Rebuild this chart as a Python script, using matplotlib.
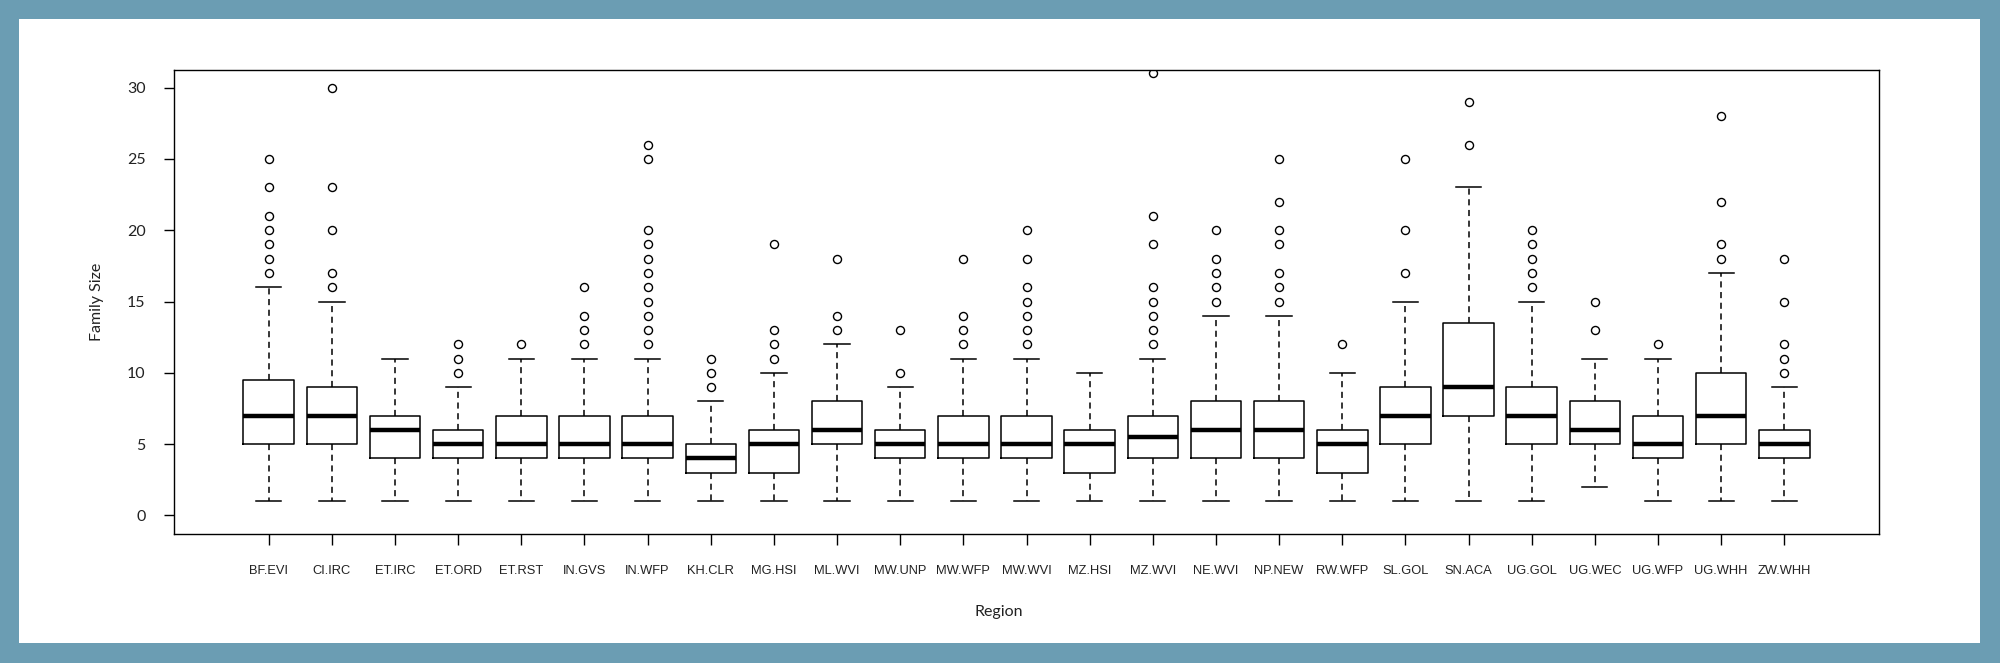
import numpy as np
import matplotlib
matplotlib.use('Agg')
import matplotlib.pyplot as plt
from matplotlib.patches import Rectangle

# region codes
regions = ['BF.EVI', 'CI.IRC', 'ET.IRC', 'ET.ORD', 'ET.RST', 'IN.GVS', 'IN.WFP', 'KH.CLR',
           'MG.HSI', 'ML.WVI', 'MW.UNP', 'MW.WFP', 'MW.WVI', 'MZ.HSI', 'MZ.WVI', 'NE.WVI',
           'NP.NEW', 'RW.WFP', 'SL.GOL', 'SN.ACA', 'UG.GOL', 'UG.WEC', 'UG.WFP', 'UG.WHH', 'ZW.WHH']

whisker_lo = [1, 1, 1, 1, 1, 1, 1, 1, 1, 1, 1, 1, 1, 1, 1, 1, 1, 1, 1, 1, 1, 2, 1, 1, 1]
q1 = [5, 5, 4, 4, 4, 4, 4, 3, 3, 5, 4, 4, 4, 3, 4, 4, 4, 3, 5, 7, 5, 5, 4, 5, 4]
median = [7, 7, 6, 5, 5, 5, 5, 4, 5, 6, 5, 5, 5, 5, 5.5, 6, 6, 5, 7, 9, 7, 6, 5, 7, 5]
q3 = [9.5, 9, 7, 6, 7, 7, 7, 5, 6, 8, 6, 7, 7, 6, 7, 8, 8, 6, 9, 13.5, 9, 8, 7, 10, 6]
whisker_hi = [16, 15, 11, 9, 11, 11, 11, 8, 10, 12, 9, 11, 11, 10, 11, 14, 14, 10, 15, 23, 15, 11, 11, 17, 9]
outliers = [
    [17, 18, 19, 20, 21, 23, 25],
    [16, 17, 20, 23, 30],
    [],
    [10, 11, 12],
    [12],
    [12, 13, 14, 16],
    [12, 13, 14, 15, 16, 17, 18, 19, 20, 25, 26],
    [9, 10, 11],
    [11, 12, 13, 19],
    [13, 14, 18],
    [10, 13],
    [12, 13, 14, 18],
    [12, 13, 14, 15, 16, 18, 20],
    [],
    [12, 13, 14, 15, 16, 19, 21, 31],
    [15, 16, 17, 18, 20],
    [15, 16, 17, 19, 20, 22, 25],
    [12],
    [17, 20, 25],
    [26, 29],
    [16, 17, 18, 19, 20],
    [13, 15],
    [12],
    [18, 19, 22, 28],
    [10, 11, 12, 15, 18],
]

stats = []
for i in range(len(regions)):
    stats.append({'label': regions[i], 'whislo': whisker_lo[i], 'q1': q1[i], 'med': median[i],
                  'q3': q3[i], 'whishi': whisker_hi[i], 'fliers': outliers[i]})

fig = plt.figure(figsize=(20, 6.63), dpi=100)
fig.patch.set_facecolor('#6b9db3')
fig.patches.append(Rectangle((19 / 2000, 1 - 643 / 663), (1980 - 19) / 2000, (643 - 19) / 663,
                             transform=fig.transFigure, facecolor='white', edgecolor='none', zorder=-5))

ax = fig.add_axes([174 / 2000, 1 - 534 / 663, (1879 - 174) / 2000, (534 - 70) / 663])
ax.set_facecolor('white')
pos = np.arange(1, len(regions) + 1)
ax.bxp(stats, positions=pos, widths=0.8, patch_artist=False,
       boxprops=dict(color='black', linewidth=1.1),
       medianprops=dict(color='black', linewidth=3.2, solid_capstyle='butt'),
       whiskerprops=dict(color='black', linewidth=1.1, linestyle=(0, (4, 3))),
       capprops=dict(color='black', linewidth=1.1),
       capwidths=0.4,
       flierprops=dict(marker='o', markerfacecolor='none', markeredgecolor='black',
                       markersize=5.8, markeredgewidth=1.0))

ax.set_xlim(-0.5, 26.5)
ax.set_ylim(-1.31, 31.24)
ax.set_yticks([0, 5, 10, 15, 20, 25, 30])
ax.set_xticks(pos)
ax.set_xticklabels(regions, fontfamily='Liberation Sans', fontsize=9.3, color='#222222')
for lab in ax.get_yticklabels():
    lab.set_fontfamily('Lato')
    lab.set_fontsize(11.5)
    lab.set_color('#222222')
ax.tick_params(axis='x', length=8, width=1, pad=14)
ax.tick_params(axis='y', length=7.5, width=1, pad=13)
for s in ax.spines.values():
    s.set_linewidth(1.0)

fig.text(97 / 2000, 1 - 302 / 663, 'Family Size', rotation=90, ha='center', va='center',
         fontfamily='Lato', fontsize=11.5, color='#222222')
fig.text(999 / 2000, 1 - 612 / 663, 'Region', ha='center', va='center',
         fontfamily='Lato', fontsize=11.5, color='#222222')

fig.savefig('out.png', dpi=100, facecolor=fig.get_facecolor())
